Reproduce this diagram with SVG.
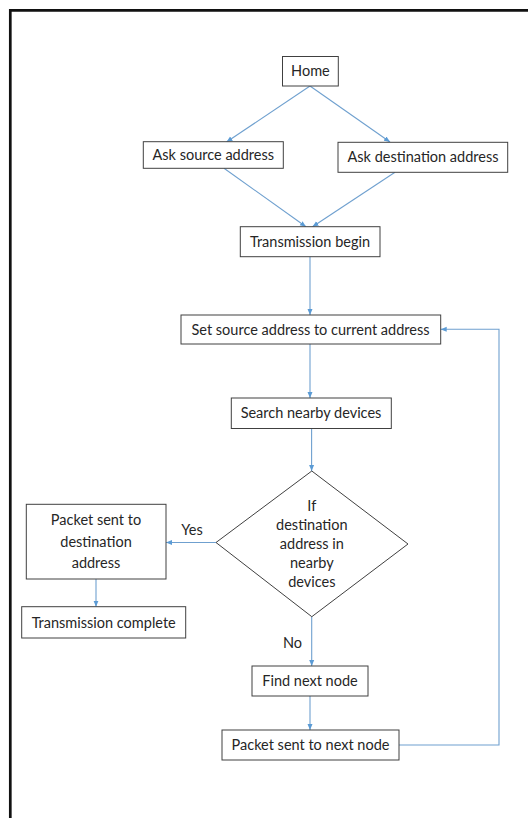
<svg xmlns="http://www.w3.org/2000/svg" width="528" height="818" viewBox="0 0 528 818">
<defs>
<style>
.box{fill:#fff;stroke:#404040;stroke-width:1}
.t{font-family:Lato,"Open Sans","Liberation Sans",sans-serif;font-size:14.5px;fill:#262626;text-anchor:middle}
.c{fill:none;stroke:#6fa0cf;stroke-width:1.1}
</style>
<marker id="ah" markerUnits="userSpaceOnUse" viewBox="0 0 6 6" refX="6" refY="3" markerWidth="6" markerHeight="6" orient="auto">
<path d="M0,0.5 L6,3 L0,5.5 z" fill="#5b9bd5"/>
</marker>
</defs>
<rect x="0" y="0" width="528" height="818" fill="#fff"/>
<path d="M10.3,818 V10.3 H528" fill="none" stroke="#111" stroke-width="2.7"/>

<g id="connectors">
<path class="c" d="M310,86 L226.5,142" marker-end="url(#ah)"/>
<path class="c" d="M310,86 L390,142" marker-end="url(#ah)"/>
<path class="c" d="M224,168.3 L306,226.7" marker-end="url(#ah)"/>
<path class="c" d="M395,172.3 L312.5,226.7" marker-end="url(#ah)"/>
<path class="c" d="M310,256.7 V315" marker-end="url(#ah)"/>
<path class="c" d="M310,344 V398" marker-end="url(#ah)"/>
<path class="c" d="M311.6,428.5 V471" marker-end="url(#ah)"/>
<path class="c" d="M216,542.5 H166" marker-end="url(#ah)"/>
<path class="c" d="M96,579 V606.7" marker-end="url(#ah)"/>
<path class="c" d="M311.7,616.7 V666" marker-end="url(#ah)"/>
<path class="c" d="M310,696 V730" marker-end="url(#ah)"/>
<path class="c" d="M399,745 H499 V329.3 H440.7" marker-end="url(#ah)"/>
</g>

<g id="home"><rect class="box" x="282.5" y="56.5" width="55.8" height="29.5"/><text class="t" x="310.4" y="76">Home</text></g>
<g id="ask-source"><rect class="box" x="143.3" y="141.7" width="140" height="26.6"/><text class="t" x="213.3" y="160">Ask source address</text></g>
<g id="ask-destination"><rect class="box" x="338" y="142.3" width="169.7" height="30"/><text class="t" x="423" y="162">Ask destination address</text></g>
<g id="transmission-begin"><rect class="box" x="240.3" y="226.7" width="139.7" height="30"/><text class="t" x="310" y="246.5">Transmission begin</text></g>
<g id="set-source"><rect class="box" x="181" y="315" width="259.7" height="29"/><text class="t" x="310.5" y="334.5">Set source address to current address</text></g>
<g id="search"><rect class="box" x="231.3" y="398" width="160" height="30.5"/><text class="t" x="311" y="418">Search nearby devices</text></g>
<g id="decision"><path class="box" d="M311.8,471 L408,544 L311.8,616.7 L216,542.5 Z"/>
<text class="t" x="311.8" y="511">If</text>
<text class="t" x="311.8" y="530">destination</text>
<text class="t" x="311.8" y="549">address in</text>
<text class="t" x="311.8" y="568">nearby</text>
<text class="t" x="311.8" y="587">devices</text></g>
<g id="packet-dest"><rect class="box" x="26.3" y="504.3" width="139.7" height="74.7"/>
<text class="t" x="96" y="525">Packet sent to</text>
<text class="t" x="96" y="546.5">destination</text>
<text class="t" x="96" y="568">address</text></g>
<g id="transmission-complete"><rect class="box" x="21.7" y="606.7" width="164" height="31.3"/><text class="t" x="103.7" y="627.5">Transmission complete</text></g>
<g id="find-next"><rect class="box" x="252" y="666" width="116" height="30"/><text class="t" x="310" y="686">Find next node</text></g>
<g id="packet-next"><rect class="box" x="222" y="730" width="177" height="30"/><text class="t" x="310.5" y="750">Packet sent to next node</text></g>
<g id="labels">
<text class="t" x="192" y="535">Yes</text>
<text class="t" x="292.5" y="648">No</text>
</g>
</svg>
